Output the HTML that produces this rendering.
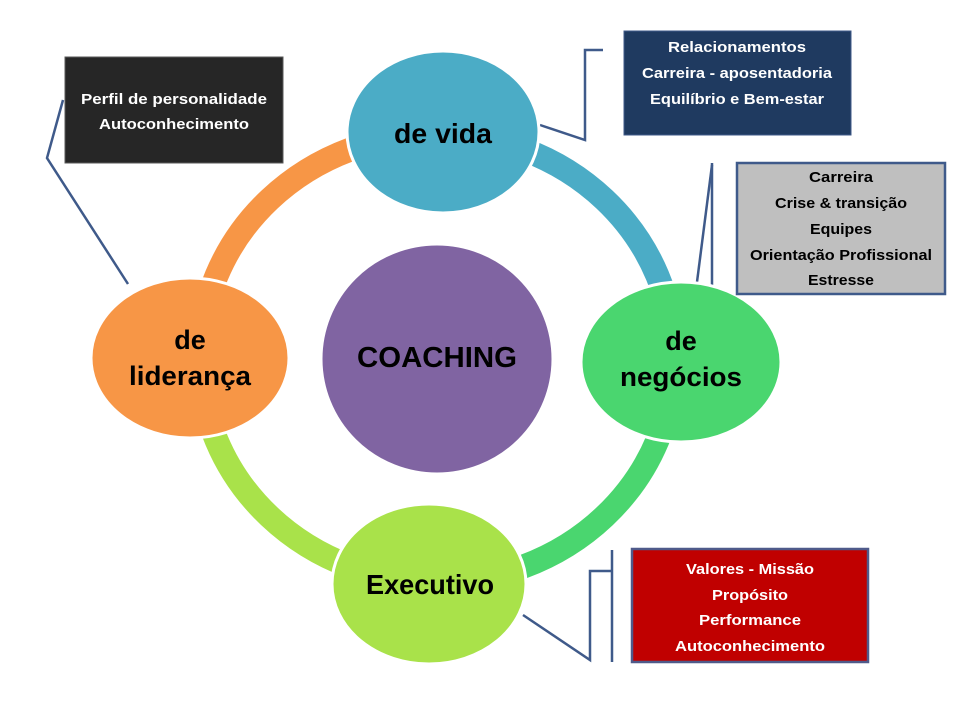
<!DOCTYPE html>
<html><head><meta charset="utf-8"><style>
body{margin:0;background:#fff;}
svg{display:block;}
text{font-family:"Liberation Sans",sans-serif;font-weight:bold;}
</style></head><body>
<svg width="960" height="720" viewBox="0 0 960 720" xmlns="http://www.w3.org/2000/svg">
<rect width="960" height="720" fill="#fff"/>
<g fill="none" stroke-width="24">
<path d="M200,358 A237,224 0 0 1 437,134" stroke="#F79646"/>
<path d="M437,134 A237,224 0 0 1 674,358" stroke="#4BACC6"/>
<path d="M674,358 A237,224 0 0 1 437,582" stroke="#4AD66F"/>
<path d="M437,582 A237,224 0 0 1 200,358" stroke="#A9E24A"/>
</g>
<g fill="none" stroke="#3F5A8A" stroke-width="2.5">
<polyline points="128,284 47,158 63,100"/>
<polyline points="540,125 585,140 585,50 603,50"/>
<line x1="712" y1="163" x2="712" y2="293"/>
<polyline points="697,282 712,165"/>
<polyline points="523,615 590,660 590,571 611,571"/>
<line x1="612" y1="550" x2="612" y2="662"/>
</g>
<g stroke="#fff" stroke-width="3">
<ellipse cx="443" cy="132" rx="96" ry="81" fill="#4BACC6"/>
<ellipse cx="190" cy="358" rx="99" ry="80" fill="#F79646"/>
<ellipse cx="681" cy="362" rx="100" ry="80" fill="#4AD66F"/>
<ellipse cx="429" cy="584" rx="97" ry="80" fill="#A9E24A"/>
<ellipse cx="437" cy="359" rx="116" ry="115" fill="#8064A2"/>
</g>
<g text-anchor="middle" fill="#000">
<text x="443" y="143" font-size="28" textLength="98" lengthAdjust="spacingAndGlyphs">de vida</text>
<text x="190" y="349" font-size="27">de</text>
<text x="190" y="385" font-size="27" textLength="122" lengthAdjust="spacingAndGlyphs">liderança</text>
<text x="681" y="350" font-size="27">de</text>
<text x="681" y="386" font-size="27" textLength="122" lengthAdjust="spacingAndGlyphs">negócios</text>
<text x="430" y="594" font-size="28" textLength="128" lengthAdjust="spacingAndGlyphs">Executivo</text>
<text x="437" y="367" font-size="29" textLength="160" lengthAdjust="spacingAndGlyphs">COACHING</text>
</g>
<rect x="65" y="57" width="218" height="106" fill="#262626" stroke="#595959" stroke-width="1"/>
<g text-anchor="middle" fill="#fff" font-size="15">
<text x="174" y="104" textLength="186" lengthAdjust="spacingAndGlyphs">Perfil  de personalidade</text>
<text x="174" y="129" textLength="150" lengthAdjust="spacingAndGlyphs">Autoconhecimento</text>
</g>
<rect x="624" y="31" width="227" height="104" fill="#1F3A60" stroke="#3F5A8A" stroke-width="1"/>
<g text-anchor="middle" fill="#fff" font-size="15">
<text x="737" y="52" textLength="138" lengthAdjust="spacingAndGlyphs">Relacionamentos</text>
<text x="737" y="78" textLength="190" lengthAdjust="spacingAndGlyphs">Carreira - aposentadoria</text>
<text x="737" y="104" textLength="174" lengthAdjust="spacingAndGlyphs">Equilíbrio e Bem-estar</text>
</g>
<rect x="737" y="163" width="208" height="131" fill="#BFBFBF" stroke="#3F5A8A" stroke-width="2.5"/>
<g text-anchor="middle" fill="#000" font-size="15">
<text x="841" y="182" textLength="64" lengthAdjust="spacingAndGlyphs">Carreira</text>
<text x="841" y="208" textLength="132" lengthAdjust="spacingAndGlyphs">Crise &amp; transição</text>
<text x="841" y="234" textLength="62" lengthAdjust="spacingAndGlyphs">Equipes</text>
<text x="841" y="260" textLength="182" lengthAdjust="spacingAndGlyphs">Orientação Profissional</text>
<text x="841" y="285" textLength="66" lengthAdjust="spacingAndGlyphs">Estresse</text>
</g>
<rect x="632" y="549" width="236" height="113" fill="#C00000" stroke="#4F5A8A" stroke-width="2.5"/>
<g text-anchor="middle" fill="#fff" font-size="15">
<text x="750" y="574" textLength="128" lengthAdjust="spacingAndGlyphs">Valores - Missão</text>
<text x="750" y="600" textLength="76" lengthAdjust="spacingAndGlyphs">Propósito</text>
<text x="750" y="625" textLength="102" lengthAdjust="spacingAndGlyphs">Performance</text>
<text x="750" y="651" textLength="150" lengthAdjust="spacingAndGlyphs">Autoconhecimento</text>
</g>
</svg>
</body></html>
